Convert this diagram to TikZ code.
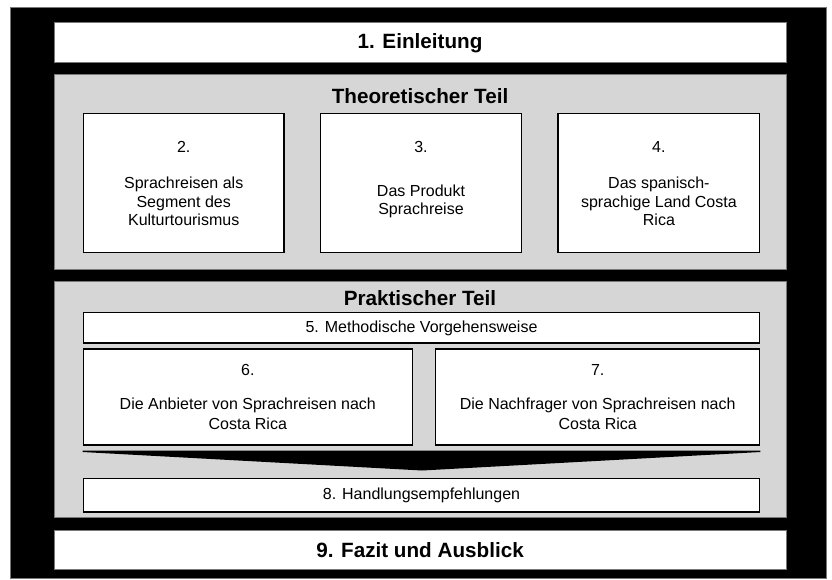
\documentclass[tikz,border=0pt]{standalone}
\usepackage{fontspec}
\setmainfont{Liberation Sans}
\usetikzlibrary{fit}
\definecolor{partgray}{RGB}{214,214,214}
\definecolor{rimgray}{RGB}{120,120,120}
\begin{document}
\begin{tikzpicture}[x=0.75pt,y=-0.75pt,
  outer/.style={fill=black,draw=rimgray,line width=0.6pt,inner sep=0pt},
  band/.style={fill=white,draw=rimgray,line width=0.6pt,inner sep=0pt},
  part/.style={fill=partgray,draw=rimgray,line width=0.5pt,inner sep=0pt},
  chap/.style={fill=white,draw=black,line width=1.1pt,inner sep=0pt},
  headtxt/.style={font=\fontsize{15.5}{18}\selectfont\bfseries,inner sep=0pt},
  bodytxt/.style={font=\fontsize{12}{13.9}\selectfont,align=center,inner sep=0pt},
  widetxt/.style={font=\fontsize{12}{15}\selectfont,align=center,inner sep=0pt}]
\useasboundingbox (0,0) rectangle (832,579);

% outer black frame
\node[outer,fit={(10.5,7)(826.3,578.5)}] (frame) {};

% introduction
\node[band,fit={(54,22.7)(786,62.3)}] (b1) {};
\node[headtxt] (t1) at (420,43.5) {1. Einleitung};

% theoretical part
\node[part,fit={(54,74)(786,269)}] (theo) {};
\node[headtxt] (ttheo) at (420,96) {Theoretischer Teil};

\node[chap,fit={(83.3,113.3)(284,252.3)}] (b2) {};
\node[chap,fit={(320.7,113.3)(521.4,252.3)}] (b3) {};
\node[chap,fit={(558,113.3)(759.7,252.3)}] (b4) {};

\node[bodytxt] (n2) at (183.7,146.7) {2.};
\node[bodytxt] (x2) at (183.7,201.7) {Sprachreisen als\\Segment des\\Kulturtourismus};
\node[bodytxt] (n3) at (421,146.7) {3.};
\node[bodytxt] (x3) at (421,201.2) {Das Produkt\\Sprachreise};
\node[bodytxt] (n4) at (658.9,146.7) {4.};
\node[bodytxt] (x4) at (658.9,201.7) {Das spanisch-\\sprachige Land Costa\\Rica};

% practical part
\node[part,fit={(54,281.7)(786,517.3)}] (prak) {};
\node[headtxt] (tprak) at (420,298) {Praktischer Teil};

\node[chap,fit={(83.3,312.7)(759.7,343)}] (b5) {};
\node[bodytxt] (x5) at (421.5,328) {5. Methodische Vorgehensweise};

\node[chap,fit={(83.3,349)(412.3,445)}] (b6) {};
\node[chap,fit={(435.7,349)(759.7,445)}] (b7) {};
\node[bodytxt] (n6) at (247.8,370) {6.};
\node[widetxt] (x6) at (247.8,414) {Die Anbieter von Sprachreisen nach\\Costa Rica};
\node[bodytxt] (n7) at (597.7,370) {7.};
\node[widetxt] (x7) at (597.7,414) {Die Nachfrager von Sprachreisen nach\\Costa Rica};

% merging chevron
\fill[black] (b6.south west |- 0,450.5) -- (b7.south east |- 0,450.5)
  -- (b7.south east |- 0,452) -- (422,470.5) -- (b6.south west |- 0,452) -- cycle;

\node[chap,fit={(83.3,478.3)(759.7,512)}] (b8) {};
\node[bodytxt] (x8) at (421.5,495) {8. Handlungsempfehlungen};

% conclusion
\node[band,fit={(54,530.7)(786,569.3)}] (b9) {};
\node[headtxt] (t9) at (420,550) {9. Fazit und Ausblick};
\end{tikzpicture}
\end{document}
